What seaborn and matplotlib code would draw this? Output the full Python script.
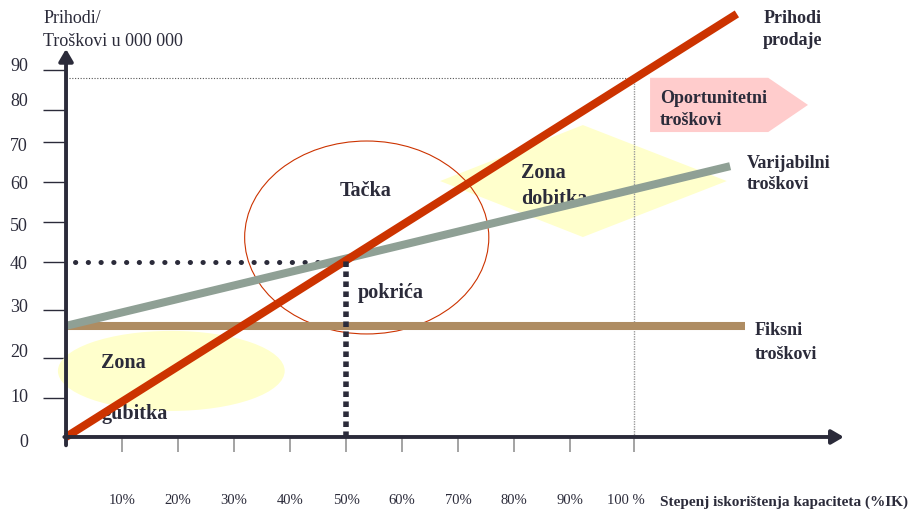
import matplotlib
matplotlib.use('Agg')
import matplotlib.pyplot as plt
import seaborn as sns
from matplotlib.patches import Ellipse, Polygon

# capacity (x) and money (y) scales
capacity = [10, 20, 30, 40, 50, 60, 70, 80, 90, 100]
cap_labels = ['10%', '20%', '30%', '40%', '50%', '60%', '70%', '80%', '90%', '100 %']
cap_marks = [10, 20, 30, 40, 50, 60, 70, 80, 90, 101.4]

money_labels = ['0', '10', '20', '30', '40', '50', '60', '70', '80', '90']
money_label_at = [-0.5, 9.6, 19.9, 30.2, 40.2, 48.7, 58.5, 67.0, 77.3, 85.3]
money_marks = [8.9, 18.1, 29.0, 40.0, 49.1, 58.3, 67.4, 74.7, 83.9]

# lines of the break-even diagram
revenue_x = [0, 119.8]
revenue_y = [0, 96.7]
varcost_x = [0, 118.6]
varcost_y = [25.4, 61.9]
fixcost_x = [0, 121.3]
fixcost_y = [25.4, 25.4]

breakeven_x = 50
breakeven_y = 40
full_cap_x = 101.4
full_cap_y = 82

# shapes
profit_zone_x = [66.8, 92.3, 118.0, 92.3]
profit_zone_y = [58.5, 71.3, 58.5, 45.7]
opp_arrow_x = [104.3, 125.4, 132.5, 125.4, 104.3]
opp_arrow_y = [82.1, 82.1, 75.9, 69.7, 69.7]

sns.set_theme(style='white')
plt.rcParams['font.family'] = ['Liberation Serif', 'DejaVu Serif']

ink = '#2b2b3a'
red = '#cc3300'

fig = plt.figure(figsize=(9.22, 5.10), dpi=100)
ax = fig.add_axes([0, 0, 1, 1])
ax.set_xlim(-11.79, 152.86)
ax.set_ylim(-16.46, 100.11)

# background zones
ax.add_patch(Polygon(list(zip(profit_zone_x, profit_zone_y)), closed=True,
                     facecolor='#ffffcc', edgecolor='none', zorder=1))
ax.add_patch(Ellipse((18.8, 15.1), 40.5, 18.3, facecolor='#ffffcc',
                     edgecolor='none', zorder=1, clip_on=False))
ax.add_patch(Polygon(list(zip(opp_arrow_x, opp_arrow_y)), closed=True,
                     facecolor='#ffcccc', edgecolor='none', zorder=1))
ax.add_patch(Ellipse((53.7, 45.6), 43.6, 44.1, facecolor='none',
                     edgecolor=red, linewidth=0.8, zorder=2.2))

# thin guides to 100% capacity
sns.lineplot(x=[0.5, full_cap_x], y=[full_cap_y, full_cap_y], ax=ax,
             color='#555555', linewidth=0.8, linestyle=(0, (1, 1.5)), zorder=2)
sns.lineplot(x=[full_cap_x, full_cap_x], y=[0, full_cap_y], ax=ax, orient='y',
             color='#9a9a9a', linewidth=1.0, linestyle=(0, (1, 0.8)), zorder=2)

# cost and revenue lines
sns.lineplot(x=fixcost_x, y=fixcost_y, ax=ax, color='#ae8c62', linewidth=5.8,
             solid_capstyle='butt', zorder=3)
sns.lineplot(x=varcost_x, y=varcost_y, ax=ax, color='#8fa095', linewidth=5.8,
             solid_capstyle='butt', zorder=3.1)
sns.lineplot(x=revenue_x, y=revenue_y, ax=ax, color=red, linewidth=5.8,
             solid_capstyle='butt', zorder=3.2)

# break-even guides
sns.lineplot(x=[1.6, breakeven_x], y=[breakeven_y, breakeven_y], ax=ax,
             color=ink, linewidth=3.6, linestyle=(0, (0.05, 2.5)),
             dash_capstyle='round', zorder=3.05)
sns.lineplot(x=[breakeven_x, breakeven_x], y=[0, 41.1], ax=ax, orient='y',
             color=ink, linewidth=4.0, linestyle=(0, (1.0, 0.8)),
             dash_capstyle='butt', zorder=3.4)

# axes with arrows
arrow = dict(arrowstyle='-|>,head_length=0.6,head_width=0.35', color=ink,
             lw=2.8, shrinkA=0, shrinkB=0, mutation_scale=12)
ax.annotate('', xy=(0, 88.7), xytext=(0, -1.9), arrowprops=arrow, zorder=4,
            annotation_clip=False)
ax.annotate('', xy=(138.9, 0), xytext=(-0.3, 0), arrowprops=arrow, zorder=4,
            annotation_clip=False)

for side in ['left', 'bottom']:
    ax.spines[side].set_position(('data', 0))
for s in ax.spines.values():
    s.set_visible(False)

ax.xaxis.remove_overlapping_locs = False
ax.yaxis.remove_overlapping_locs = False
ax.set_xticks(cap_marks, labels=[''] * len(cap_marks))
ax.set_xticks(capacity, labels=cap_labels, minor=True)
ax.set_yticks(money_marks, labels=[''] * len(money_marks))
ax.set_yticks(money_label_at, labels=money_labels, minor=True)
ax.tick_params(axis='x', which='major', bottom=True, direction='out',
               length=10.8, width=1.1, color='#8a8a8a')
ax.tick_params(axis='x', which='minor', bottom=True, length=0, pad=40.5,
               labelsize=10.5, labelcolor=ink)
ax.tick_params(axis='y', which='major', left=True, direction='out',
               length=16.5, width=1.0, color=ink)
ax.tick_params(axis='y', which='minor', left=True, length=0, pad=27.4,
               labelsize=13, labelcolor=ink)

# texts
def put(x, y, s, size=13, weight='bold'):
    ax.text(x, y, s, fontsize=size, fontweight=weight, color=ink,
            ha='left', va='baseline', zorder=2.5)

put(-4.1, 94.9, 'Prihodi/', weight='normal')
put(-4.1, 89.5, 'Troškovi u 000 000', weight='normal')
put(124.5, 94.9, 'Prihodi')
put(124.5, 89.8, 'prodaje')
put(106.1, 76.6, 'Oportunitetni')
put(106.1, 71.5, 'troškovi')
put(121.6, 61.7, 'Varijabilni')
put(121.6, 56.9, 'troškovi')
put(122.9, 23.5, 'Fiksni')
put(122.9, 18.1, 'troškovi')
put(48.9, 55.3, 'Tačka', size=14.5)
put(52.1, 32.0, 'pokrića', size=14.5)
put(6.25, 16.0, 'Zona', size=14.5)
put(6.25, 4.3, 'gubitka', size=14.5)
put(81.25, 59.4, 'Zona', size=14.5)
put(81.25, 53.5, 'dobitka', size=14.5)
put(106.1, -15.5, 'Stepenj iskorištenja kapaciteta (%IK)', size=11)

plt.savefig('out.png', dpi=100)
plt.close()
